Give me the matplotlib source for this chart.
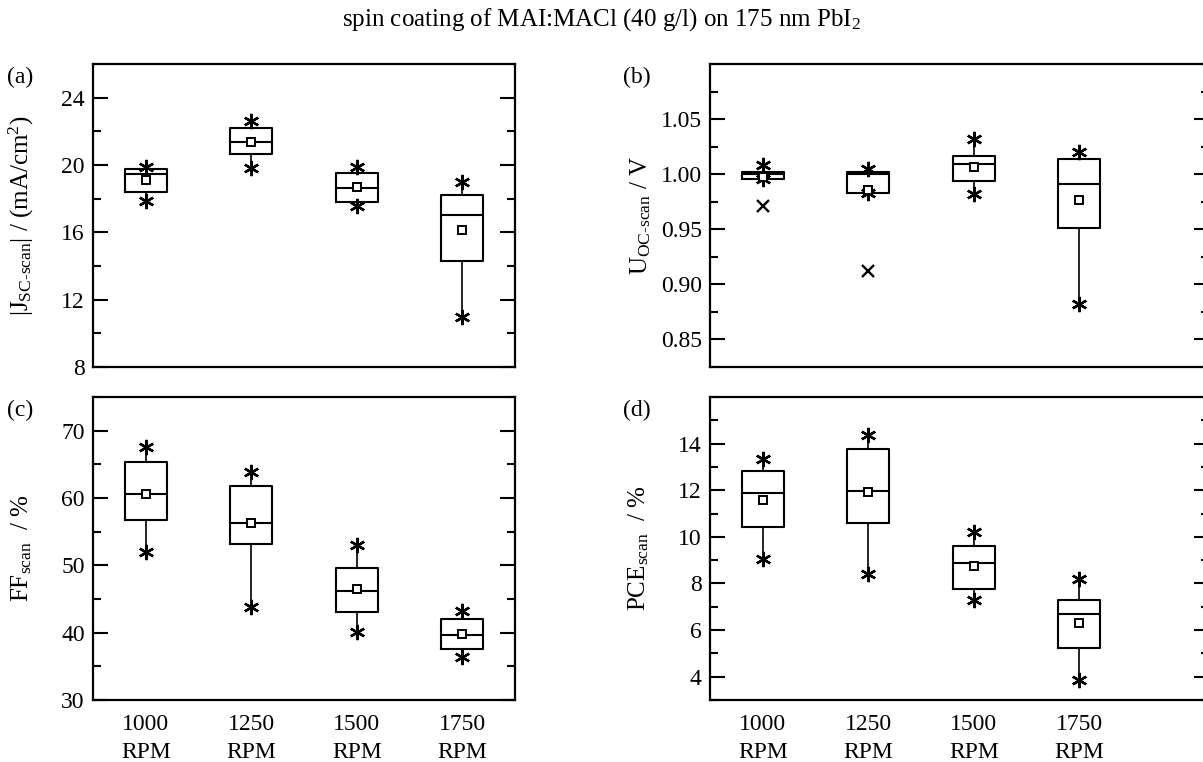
import matplotlib
matplotlib.use("Agg")
import matplotlib.pyplot as plt
import numpy as np
from matplotlib.ticker import MultipleLocator

plt.rcParams['font.family'] = ['Liberation Serif', 'DejaVu Serif']
plt.rcParams['mathtext.fontset'] = 'custom'
plt.rcParams['mathtext.rm'] = 'Liberation Serif'
plt.rcParams['mathtext.it'] = 'Liberation Serif:italic'

labels = ['1000\nRPM', '1250\nRPM', '1500\nRPM', '1750\nRPM']

# Jsc (mA/cm2)
jsc_q1 = [18.40, 20.63, 17.78, 14.32]
jsc_med = [19.45, 21.37, 18.65, 17.03]
jsc_q3 = [19.74, 22.18, 19.54, 18.24]
jsc_mean = [19.11, 21.35, 18.71, 16.14]
jsc_lo = [17.88, 19.84, 17.58, 10.95]
jsc_hi = [19.86, 22.61, 19.86, 18.97]

# Uoc (V)
uoc_q1 = [0.9955, 0.9830, 0.9942, 0.9515]
uoc_med = [1.0000, 1.0003, 1.0091, 0.9915]
uoc_q3 = [1.0024, 1.0024, 1.0164, 1.0136]
uoc_mean = [0.9973, 0.9860, 1.0067, 0.9770]
uoc_lo = [0.9955, 0.9830, 0.9818, 0.8824]
uoc_hi = [1.0079, 1.0048, 1.0315, 1.0200]
uoc_out_x = [1, 2]
uoc_out = [0.9712, 0.9121]

# FF (%)
ff_q1 = [56.66, 53.14, 43.13, 37.53]
ff_med = [60.53, 56.32, 46.20, 39.71]
ff_q3 = [65.29, 61.77, 49.67, 41.99]
ff_mean = [60.60, 56.30, 46.45, 39.80]
ff_lo = [52.05, 43.87, 40.05, 36.34]
ff_hi = [67.57, 63.84, 53.09, 43.18]

# PCE (%)
pce_q1 = [10.44, 10.61, 7.76, 5.23]
pce_med = [11.89, 11.95, 8.88, 6.68]
pce_q3 = [12.81, 13.76, 9.60, 7.27]
pce_mean = [11.59, 11.93, 8.75, 6.30]
pce_lo = [9.06, 8.39, 7.29, 3.84]
pce_hi = [13.35, 14.36, 10.20, 8.20]

W, H = 1203, 762
fig = plt.figure(figsize=(W / 100, H / 100), dpi=100)


def box_axes(rect_px, ylim, yticks, minor, ylabel, tag, xmax=4.5):
    x0, y0, x1, y1 = rect_px
    ax = fig.add_axes([x0 / W, 1 - y1 / H, (x1 - x0) / W, (y1 - y0) / H])
    ax.set_xlim(0.5, xmax)
    ax.set_ylim(*ylim)
    ax.set_yticks(yticks)
    ax.yaxis.set_minor_locator(MultipleLocator(minor))
    ax.tick_params(axis='y', which='both', direction='in', right=True,
                   labelsize=17, width=1.5)
    ax.tick_params(axis='y', which='major', length=11, pad=6)
    ax.tick_params(axis='y', which='minor', length=6)
    ax.tick_params(axis='x', length=0, labelsize=17, pad=10)
    for s in ax.spines.values():
        s.set_linewidth(1.6)
    ax.set_ylabel(ylabel, fontsize=18)
    fig.text((x0 - 73) / W, 1 - (y0 + 13) / H, tag, fontsize=17,
             ha='center', va='center')
    return ax


def draw(ax, q1, med, q3, mean, lo, hi, show_x):
    stats = []
    for i in range(len(q1)):
        stats.append(dict(q1=q1[i], med=med[i], q3=q3[i], mean=mean[i],
                          whislo=lo[i], whishi=hi[i], fliers=[]))
    pos = list(range(1, len(q1) + 1))
    ax.bxp(stats, positions=pos, widths=0.4, showmeans=True, showcaps=False,
           boxprops=dict(color='black', linewidth=1.5),
           medianprops=dict(color='black', linewidth=1.5),
           whiskerprops=dict(color='black', linewidth=1.2),
           meanprops=dict(marker='s', markerfacecolor='white',
                          markeredgecolor='black', markersize=5.5,
                          markeredgewidth=1.4))
    ax.plot(pos, lo, ls='none', marker=(6, 2, 0), ms=11, mew=1.7, color='black')
    ax.plot(pos, hi, ls='none', marker=(6, 2, 0), ms=11, mew=1.7, color='black')
    ax.set_xticks(pos)
    if show_x:
        ax.set_xticklabels(labels, linespacing=1.45)
    else:
        ax.set_xticklabels([])


xr = 0.5 + (1209 - 710) / 105.5

ax_a = box_axes((93, 64, 515, 367), (8, 26), np.arange(8, 25, 4), 2,
                r'|J$_{\mathrm{SC\text{-}scan}}$| / (mA/cm$^{2}$)', '(a)')
draw(ax_a, jsc_q1, jsc_med, jsc_q3, jsc_mean, jsc_lo, jsc_hi, False)
ax_a.yaxis.set_label_coords(-0.135, 0.5)

ax_b = box_axes((710, 64, 1209, 367), (0.825, 1.10), [0.85, 0.90, 0.95, 1.00, 1.05],
                0.025, r'U$_{\mathrm{OC\text{-}scan}}$ / V', '(b)', xmax=xr)
draw(ax_b, uoc_q1, uoc_med, uoc_q3, uoc_mean, uoc_lo, uoc_hi, False)
ax_b.plot(uoc_out_x, uoc_out, ls='none', marker='x', ms=8, mew=1.7, color='black')
ax_b.set_yticklabels(['0.85', '0.90', '0.95', '1.00', '1.05'])
ax_b.yaxis.set_label_coords(-0.115, 0.5)

ax_c = box_axes((93, 397, 515, 700), (30, 75), np.arange(30, 71, 10), 5,
                r'FF$_{\mathrm{scan}}$  / %', '(c)')
draw(ax_c, ff_q1, ff_med, ff_q3, ff_mean, ff_lo, ff_hi, True)
ax_c.yaxis.set_label_coords(-0.14, 0.5)

ax_d = box_axes((710, 397, 1209, 700), (3, 16), np.arange(4, 15, 2), 1,
                r'PCE$_{\mathrm{scan}}$  / %', '(d)', xmax=xr)
draw(ax_d, pce_q1, pce_med, pce_q3, pce_mean, pce_lo, pce_hi, True)
ax_d.yaxis.set_label_coords(-0.118, 0.5)

fig.text(601 / W, 1 - 20 / H, r'spin coating of MAI:MACl (40 g/l) on 175 nm PbI$_{2}$',
         fontsize=18, ha='center', va='center')

fig.savefig('out.png', dpi=100)
